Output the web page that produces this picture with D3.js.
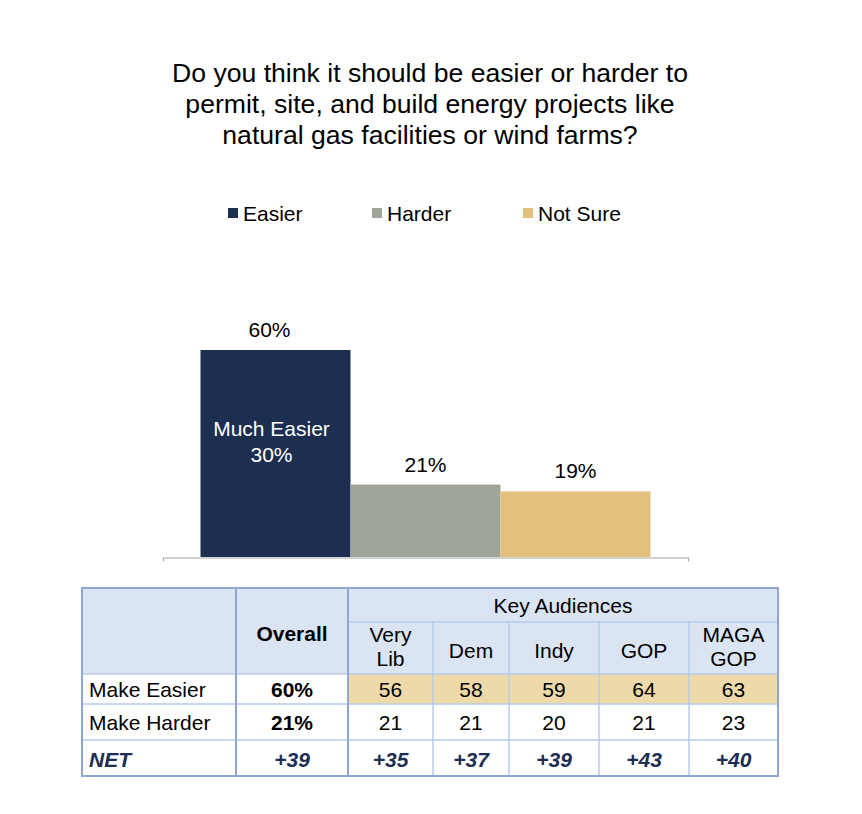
<!DOCTYPE html>
<html><head><meta charset="utf-8">
<script src="https://cdn.jsdelivr.net/npm/d3@7"></script>
<style>
html,body{margin:0;padding:0;background:#fff;}
svg{display:block;font-family:"Liberation Sans",Arial,Helvetica,sans-serif;}
</style></head>
<body><svg id="c" width="862" height="814"></svg>
<script>
// ---- data ----
const titleLines = ["Do you think it should be easier or harder to","permit, site, and build energy projects like","natural gas facilities or wind farms?"];
const categories = ["Easier","Harder","Not Sure"];
const values = [60,21,19];
const colors = ["#1c2f51","#a0a599","#e3c17c"];
const innerLabel = ["Much Easier","30%"];

const audiences = [["Very","Lib"],["Dem"],["Indy"],["GOP"],["MAGA","GOP"]];
const rowLabels = ["Make Easier","Make Harder","NET"];
const overall = ["60%","21%","+39"];
const easierVals = [56,58,59,64,63];
const harderVals = [21,21,20,21,23];
const netVals = ["+35","+37","+39","+43","+40"];

const svg = d3.select("#c");

// ---- title ----
svg.append("g").selectAll("text").data(titleLines).join("text")
  .attr("x",430).attr("y",(d,i)=>82+i*31).attr("text-anchor","middle")
  .attr("font-size",26.6).attr("fill","#000").text(d=>d);

// ---- legend ----
const legendX = [228,372,523];
const lg = svg.append("g").selectAll("g").data(categories).join("g")
  .attr("transform",(d,i)=>`translate(${legendX[i]},208)`);
lg.append("rect").attr("width",10).attr("height",10).attr("fill",(d,i)=>colors[i]);
lg.append("text").attr("x",15).attr("y",13).attr("font-size",21).attr("fill","#000").text(d=>d);

// ---- bars ----
const x = d3.scaleBand().domain(categories).range([163,688]).paddingInner(0).paddingOuter(0.25);
const y = d3.scaleLinear().domain([0,60]).range([557,350]);

svg.append("g").selectAll("rect").data(categories).join("rect")
  .attr("x",d=>x(d)).attr("width",x.bandwidth())
  .attr("y",(d,i)=>y(values[i])).attr("height",(d,i)=>y(0)-y(values[i]))
  .attr("fill",(d,i)=>colors[i]);

const ax = svg.append("g").attr("transform",`translate(0,${y(0)+0.5})`)
  .call(d3.axisBottom(x).tickValues([]).tickSizeOuter(4));
ax.select(".domain").attr("stroke","#a6a6a6").attr("stroke-width",1.2);

svg.append("g").selectAll("text").data(categories).join("text")
  .attr("x",(d,i)=>x(d)+x.bandwidth()/2+(i===0?-6:0)).attr("y",(d,i)=>y(values[i])-13)
  .attr("text-anchor","middle").attr("font-size",21).attr("fill","#000")
  .text((d,i)=>values[i]+"%");

svg.append("g").selectAll("text").data(innerLabel).join("text")
  .attr("x",x("Easier")+x.bandwidth()/2-4).attr("y",(d,i)=>436+i*26)
  .attr("text-anchor","middle").attr("font-size",21).attr("fill","#fff").text(d=>d);

// ---- table ----
const colX = [82,236,348,433,509,599,689,778];
const rowY = {top:588, ka:622, head:674, r1:704, r2:740, bottom:776};
const T = svg.append("g");
const headFill = "#dae4f3", tan = "#eedaa8", lineLight = "#b7cbe9", lineDark = "#8fa7d6";

T.append("rect").attr("x",colX[0]).attr("y",rowY.top).attr("width",colX[7]-colX[0]).attr("height",rowY.head-rowY.top).attr("fill",headFill);
T.append("rect").attr("x",colX[2]).attr("y",rowY.r1-30).attr("width",colX[7]-colX[2]).attr("height",30).attr("fill",tan);

T.append("line").attr("x1",colX[2]).attr("x2",colX[7]).attr("y1",rowY.ka).attr("y2",rowY.ka).attr("stroke",lineLight).attr("stroke-width",1.5);
T.selectAll(".hl").data([rowY.head,rowY.r1,rowY.r2]).join("line")
  .attr("x1",colX[0]).attr("x2",colX[7]).attr("y1",d=>d).attr("y2",d=>d)
  .attr("stroke",lineLight).attr("stroke-width",1.5);
T.selectAll(".vl").data(colX.slice(3,7)).join("line")
  .attr("x1",d=>d).attr("x2",d=>d).attr("y1",rowY.ka).attr("y2",rowY.bottom)
  .attr("stroke",lineLight).attr("stroke-width",1.5);
T.selectAll(".vd").data([colX[1],colX[2]]).join("line")
  .attr("x1",d=>d).attr("x2",d=>d).attr("y1",rowY.top).attr("y2",rowY.bottom)
  .attr("stroke",lineDark).attr("stroke-width",2);
T.append("rect").attr("x",colX[0]).attr("y",rowY.top).attr("width",colX[7]-colX[0]).attr("height",rowY.bottom-rowY.top)
  .attr("fill","none").attr("stroke",lineDark).attr("stroke-width",2);

const fs = 21;
T.append("text").attr("x",(colX[2]+colX[7])/2).attr("y",613).attr("text-anchor","middle").attr("font-size",fs).text("Key Audiences");
T.append("text").attr("x",(colX[1]+colX[2])/2).attr("y",641).attr("text-anchor","middle").attr("font-size",fs).attr("font-weight","bold").text("Overall");

audiences.forEach((a,i)=>{
  const cx = (colX[i+2]+colX[i+3])/2;
  const t = T.append("text").attr("text-anchor","middle").attr("font-size",fs);
  const startY = a.length===2 ? 642 : 658;
  a.forEach((s,j)=>t.append("tspan").attr("x",cx).attr("y",startY+j*24).text(s));
});

const rowBase = [697,730,767];
rowLabels.forEach((r,i)=>{
  const isNet = i===2;
  T.append("text").attr("x",89).attr("y",rowBase[i]).attr("font-size",fs)
    .attr("font-weight",isNet?"bold":"normal").attr("font-style",isNet?"italic":"normal")
    .attr("fill",isNet?"#1c2e52":"#000").text(r);
  T.append("text").attr("x",(colX[1]+colX[2])/2).attr("y",rowBase[i]).attr("text-anchor","middle").attr("font-size",fs)
    .attr("font-weight","bold").attr("font-style",isNet?"italic":"normal")
    .attr("fill",isNet?"#1c2e52":"#000").text(overall[i]);
});
const rowVals = [easierVals, harderVals, netVals];
rowVals.forEach((vals,i)=>{
  const isNet = i===2;
  T.append("g").selectAll("text").data(vals).join("text")
    .attr("x",(d,j)=>(colX[j+2]+colX[j+3])/2).attr("y",rowBase[i])
    .attr("text-anchor","middle").attr("font-size",fs)
    .attr("font-weight",isNet?"bold":"normal").attr("font-style",isNet?"italic":"normal")
    .attr("fill",isNet?"#1c2e52":"#000").text(d=>d);
});
</script></body></html>
